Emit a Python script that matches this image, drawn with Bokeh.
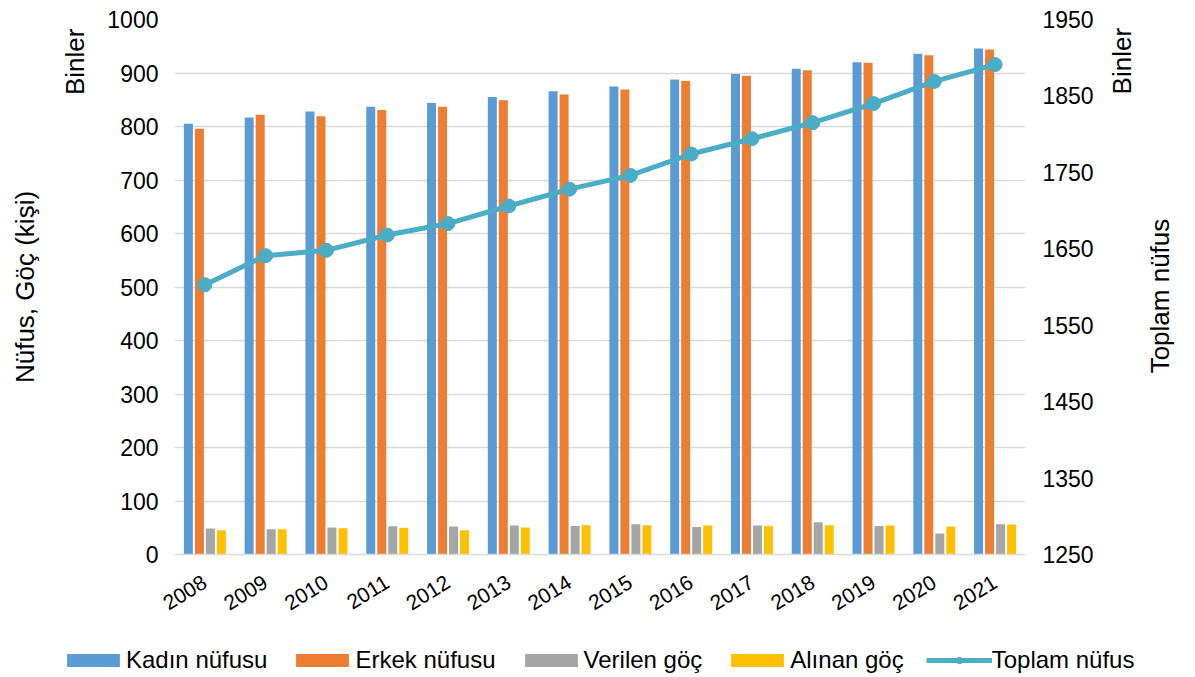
from math import pi

from bokeh.plotting import figure
from bokeh.models import (ColumnDataSource, FactorRange, Range1d, LinearAxis,
                          FixedTicker, Legend, LegendItem)
from bokeh.transform import dodge
from bokeh.embed import file_html
from bokeh.resources import INLINE

# Population (thousands) and migration figures per year
years = [str(y) for y in range(2008, 2022)]
kadin = [805, 817, 828, 837, 844, 855, 866, 875, 888, 898, 908, 920, 936, 946]
erkek = [796, 822, 819, 831, 837, 849, 860, 869, 885, 895, 905, 919, 933, 944]
verilen = [48.6, 47.3, 50.5, 52.9, 52.3, 54.2, 53.5, 56.7, 51.6, 54.2, 60.4, 53.5, 39.2, 56.7]
alinan = [45.4, 47.3, 49.2, 49.8, 45.4, 50.5, 54.8, 54.8, 54.2, 53.5, 54.8, 54.2, 52.3, 56.1]
toplam = [1603, 1641, 1648, 1668, 1683, 1706, 1728, 1746, 1774, 1794, 1815, 1840, 1869, 1891]

series_names = ["Kadın nüfusu", "Erkek nüfusu", "Verilen göç", "Alınan göç", "Toplam nüfus"]

left_ticks = list(range(0, 1001, 100))
right_ticks = list(range(1250, 1951, 100))

FONT = "Liberation Sans"
C_BLUE, C_ORANGE, C_GRAY, C_YELLOW, C_LINE = "#5B9BD5", "#ED7D31", "#A5A5A5", "#FFC000", "#4BACC6"
GRID = "#D9D9D9"

src = ColumnDataSource(dict(year=years, kadin=kadin, erkek=erkek,
                            verilen=verilen, alinan=alinan, toplam=toplam))


def draw_series(fig):
    """Clustered bars plus the total-population line; returns legend renderer groups."""
    bw = 0.148
    groups = []
    for col, off, c in (("kadin", -0.2715, C_BLUE), ("erkek", -0.0905, C_ORANGE),
                        ("verilen", 0.0905, C_GRAY), ("alinan", 0.2715, C_YELLOW)):
        groups.append([fig.vbar(x=dodge("year", off, range=fig.x_range), top=col,
                                width=bw, source=src, color=c, line_color=None)])
    groups.append([
        fig.line(x="year", y="toplam", source=src, y_range_name="right",
                 line_color=C_LINE, line_width=5),
        fig.scatter(x="year", y="toplam", source=src, y_range_name="right",
                    size=14, fill_color=C_LINE, line_color=C_LINE),
    ])
    return groups


# ---- main chart -----------------------------------------------------------
p = figure(x_range=FactorRange(*years), y_range=Range1d(0, 1000),
           width=1195, height=640, output_backend="svg", toolbar_location=None,
           min_border_left=174, min_border_right=170, min_border_top=19,
           min_border_bottom=86)
p.extra_y_ranges = {"right": Range1d(1250, 1950)}
p.outline_line_color = None
p.background_fill_color = "white"
p.border_fill_color = "white"
draw_series(p)

# Value axes
p.yaxis.ticker = FixedTicker(ticks=left_ticks)
ax_r = LinearAxis(y_range_name="right", ticker=FixedTicker(ticks=right_ticks))
p.add_layout(ax_r, "right")

for ax in (p.yaxis[0], ax_r):
    ax.axis_line_color = None
    ax.major_tick_line_color = None
    ax.minor_tick_line_color = None
    ax.major_tick_out = 0
    ax.major_label_text_font = FONT
    ax.major_label_text_font_size = "23px"
    ax.major_label_text_color = "#000000"
p.yaxis[0].major_label_standoff = 16
ax_r.major_label_standoff = 17


# Rotated side texts: the single tick label of a bare axis, reading upwards
def side_text(side, range_name, pos, text, standoff, **extra):
    ax = LinearAxis(y_range_name=range_name, ticker=FixedTicker(ticks=[pos]),
                    major_label_overrides={pos: text},
                    major_label_orientation=pi / 2,
                    major_label_standoff=standoff,
                    axis_line_color=None, major_tick_line_color=None,
                    minor_tick_line_color=None, major_tick_out=0, major_tick_in=0,
                    major_label_text_font=FONT, major_label_text_font_size="26px",
                    major_label_text_color="#000000", **extra)
    p.add_layout(ax, side)
    return ax


# left: "Binler" note, with the axis title carried outside it
side_text("left", "default", 983, "Binler", 29,
          axis_label="Nüfus, Göç (kişi)", axis_label_standoff=3,
          axis_label_text_font=FONT, axis_label_text_font_size="26px",
          axis_label_text_font_style="normal", axis_label_text_color="#000000")
# right: "Binler" note, then the secondary axis title
side_text("right", "right", 1852, "Binler", 26)
side_text("right", "right", 1487, "Toplam nüfus", 5)

# Category axis
p.xaxis.axis_line_color = GRID
p.xaxis.axis_line_width = 1.5
p.xaxis.major_tick_line_color = None
p.xaxis.minor_tick_line_color = None
p.xaxis.major_tick_out = 0
p.xaxis.major_label_orientation = 0.55
p.xaxis.major_label_text_font = FONT
p.xaxis.major_label_text_font_size = "21px"
p.xaxis.major_label_text_color = "#000000"
p.xaxis.major_label_standoff = 26

p.xgrid.grid_line_color = None
p.ygrid.grid_line_color = GRID
p.ygrid.grid_line_width = 1.5
p.ygrid.ticker = FixedTicker(ticks=left_ticks)

# ---- legend strip under the chart -----------------------------------------
# Same series drawn again with y ranges well above every value, so only the
# legend swatches show.
leg = figure(width=1195, height=37, x_range=FactorRange(*years),
             y_range=Range1d(5000, 5001), output_backend="svg",
             toolbar_location=None, min_border=0)
leg.extra_y_ranges = {"right": Range1d(5000, 5001)}
leg.outline_line_color = None
leg.axis.visible = False
leg.grid.visible = False
groups = draw_series(leg)

legend = Legend(items=[LegendItem(label=n, renderers=r) for n, r in zip(series_names, groups)],
                orientation="horizontal", location=(60, 3))
legend.border_line_color = None
legend.background_fill_alpha = 0
legend.padding = 0
legend.margin = 0
legend.spacing = 22
legend.glyph_width = 66
legend.glyph_height = 16
legend.label_standoff = 0
legend.label_text_font = FONT
legend.label_text_font_size = "24px"
legend.label_text_color = "#000000"
leg.add_layout(legend)

open("out.html", "w").write(file_html([p, leg], INLINE))
